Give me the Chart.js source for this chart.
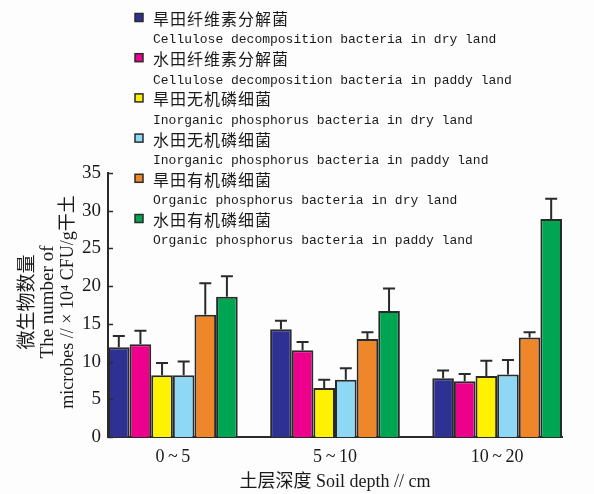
<!DOCTYPE html>
<html>
<head>
<meta charset="utf-8">
<script src="https://cdn.jsdelivr.net/npm/chart.js@4/dist/chart.umd.min.js"></script>
<style>
  html, body { margin: 0; padding: 0; background: #fdfdfd; }
  #wrap { width: 594px; height: 494px; }
</style>
</head>
<body>
<div id="wrap"><canvas id="c" width="594" height="494"></canvas></div>
<script>
// Soil depth classes (cm)
const depths = ['0\u2009~\u20095', '5\u2009~\u200910', '10\u2009~\u200920'];

// Series names (Chinese / English)
const namesZh = ['旱田纤维素分解菌', '水田纤维素分解菌', '旱田无机磷细菌', '水田无机磷细菌', '旱田有机磷细菌', '水田有机磷细菌'];
const namesEn = [
  'Cellulose decomposition bacteria in dry land',
  'Cellulose decomposition bacteria in paddy land',
  'Inorganic phosphorus bacteria in dry land',
  'Inorganic phosphorus bacteria in paddy land',
  'Organic phosphorus bacteria in dry land',
  'Organic phosphorus bacteria in paddy land'
];

// Mean counts (×10^4 CFU/g dry soil) per depth
const dryCellulose     = [11.9, 14.3, 7.8];
const paddyCellulose   = [12.3, 11.5, 7.4];
const dryInorganicP    = [8.2, 6.5, 8.1];
const paddyInorganicP  = [8.2, 7.6, 8.3];
const dryOrganicP      = [16.2, 13.0, 13.2];
const paddyOrganicP    = [18.6, 16.7, 28.9];

// Standard deviations (upper error bars)
const dryCelluloseErr    = [1.5, 1.1, 1.0];
const paddyCelluloseErr  = [1.8, 1.1, 0.95];
const dryInorganicPErr   = [1.6, 1.1, 2.0];
const paddyInorganicPErr = [1.8, 1.5, 1.9];
const dryOrganicPErr     = [4.2, 0.9, 0.7];
const paddyOrganicPErr   = [2.7, 3.0, 2.7];

// Y axis ticks
const yTicks = [0, 5, 10, 15, 20, 25, 30, 35];

const seriesValues = [dryCellulose, paddyCellulose, dryInorganicP, paddyInorganicP, dryOrganicP, paddyOrganicP];
const seriesErrors = [dryCelluloseErr, paddyCelluloseErr, dryInorganicPErr, paddyInorganicPErr, dryOrganicPErr, paddyOrganicPErr];
const fills = ['#2e3192', '#ec008c', '#fff200', '#8ed8f6', '#f0862a', '#00a551'];
const ink = '#2a2a2a';

const serif = '"Liberation Serif", "Noto Sans CJK SC", serif';
const cjk = '"Noto Sans CJK SC", sans-serif';
const mono = '"Liberation Mono", "DejaVu Sans Mono", monospace';

const datasets = seriesValues.map((vals, s) => ({
  label: namesZh[s],
  data: vals.map((v, i) => ({ x: i, y: v })),
  errors: seriesErrors[s],
  backgroundColor: fills[s],
  borderColor: ink,
  borderWidth: 2,
  borderSkipped: 'bottom',
  barPercentage: 1.0,
  categoryPercentage: 0.8
}));

// Upper error bars with a T cap
const errorBars = {
  id: 'errorBars',
  afterDatasetsDraw(chart) {
    const { ctx, scales: { y } } = chart;
    ctx.save();
    ctx.strokeStyle = ink;
    ctx.lineWidth = 2;
    chart.data.datasets.forEach((ds, d) => {
      const meta = chart.getDatasetMeta(d);
      meta.data.forEach((bar, i) => {
        const top = y.getPixelForValue(ds.data[i].y + ds.errors[i]);
        ctx.beginPath();
        ctx.moveTo(bar.x, bar.y);
        ctx.lineTo(bar.x, top);
        ctx.moveTo(bar.x - 6, top);
        ctx.lineTo(bar.x + 6, top);
        ctx.stroke();
      });
    });
    ctx.restore();
  }
};

// Inward tick marks on the value axis
const innerTicks = {
  id: 'innerTicks',
  afterDraw(chart) {
    const { ctx, scales: { y }, chartArea } = chart;
    ctx.save();
    ctx.strokeStyle = ink;
    ctx.lineWidth = 1.5;
    y.ticks.forEach(t => {
      const py = Math.round(y.getPixelForValue(t.value)) + 0.5;
      ctx.beginPath();
      ctx.moveTo(chartArea.left, py);
      ctx.lineTo(chartArea.left + 5, py);
      ctx.stroke();
    });
    ctx.restore();
  }
};

// Axis titles
const axisTitles = {
  id: 'axisTitles',
  afterDraw(chart) {
    const { ctx, chartArea } = chart;
    const cy = (chartArea.top + chartArea.bottom) / 2 - 3;
    ctx.save();
    ctx.fillStyle = '#1a1a1a';
    ctx.textAlign = 'center';
    ctx.textBaseline = 'middle';
    const lines = [
      { text: '微生物数量', font: '19px ' + cjk, x: 26 },
      { text: 'The number of', font: '19px ' + serif, x: 48 },
      { text: 'microbes // × 10⁴ CFU/g干土', font: '18px ' + serif, x: 68 }
    ];
    lines.forEach(l => {
      ctx.save();
      ctx.translate(l.x, cy);
      ctx.rotate(-Math.PI / 2);
      ctx.font = l.font;
      ctx.fillText(l.text, 0, 0);
      ctx.restore();
    });
    ctx.font = '18px ' + serif;
    ctx.fillText('土层深度 Soil depth // cm', (chartArea.left + chartArea.right) / 2, 482);
    ctx.restore();
  }
};

// Two-line legend drawn over the plot
const twoLineLegend = {
  id: 'twoLineLegend',
  afterDraw(chart) {
    const { ctx } = chart;
    ctx.save();
    chart.data.datasets.forEach((ds, s) => {
      const cy = 17.5 + s * 40.2;
      ctx.fillStyle = ds.backgroundColor;
      ctx.fillRect(135, cy - 4, 8, 8);
      ctx.strokeStyle = ink;
      ctx.lineWidth = 1.5;
      ctx.strokeRect(135, cy - 4, 8, 8);
      ctx.fillStyle = '#1a1a1a';
      ctx.textAlign = 'left';
      ctx.textBaseline = 'middle';
      ctx.font = '16px ' + cjk;
      ctx.letterSpacing = '1px';
      ctx.fillText(namesZh[s], 153, cy + 1.5);
      ctx.letterSpacing = '0px';
      ctx.font = '13px ' + mono;
      ctx.fillText(namesEn[s], 153, cy + 22.5);
    });
    ctx.restore();
  }
};

new Chart(document.getElementById('c'), {
  type: 'bar',
  data: { datasets },
  options: {
    responsive: false,
    animation: false,
    layout: { padding: { top: 173, right: 32, left: 0, bottom: 0 } },
    plugins: { legend: { display: false }, tooltip: { enabled: false } },
    scales: {
      x: {
        type: 'linear',
        offset: false,
        min: -0.4,
        max: 2.4,
        afterBuildTicks(scale) { scale.ticks = depths.map((d, i) => ({ value: i })); },
        afterFit(scale) { scale.height = 57; },
        grid: { display: false, drawTicks: false },
        border: { display: true, color: ink, width: 2 },
        ticks: {
          autoSkip: false,
          maxRotation: 0,
          padding: 9,
          color: '#1a1a1a',
          font: { family: serif, size: 18 },
          callback: v => depths[v]
        }
      },
      y: {
        min: 0,
        max: 35,
        afterBuildTicks(scale) { scale.ticks = yTicks.map(v => ({ value: v })); },
        afterFit(scale) { scale.width = 108; },
        grid: { display: false, drawTicks: false },
        border: { display: true, color: ink, width: 2 },
        ticks: {
          padding: 7,
          color: '#1a1a1a',
          font: { family: serif, size: 19 }
        }
      }
    }
  },
  plugins: [errorBars, innerTicks, axisTitles, twoLineLegend]
});
</script>
</body>
</html>
